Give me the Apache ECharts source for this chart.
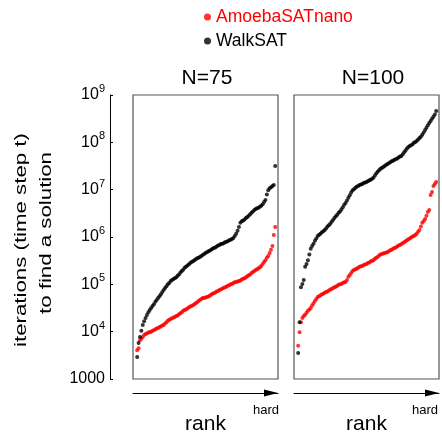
<!DOCTYPE html>
<html><head><meta charset="utf-8">
<script src="https://cdn.jsdelivr.net/npm/echarts@6/dist/echarts.min.js"></script>
<style>html,body{margin:0;padding:0;background:#fff}#c{width:442px;height:434px}</style>
</head><body><div id="c"></div>
<script>
const panelTitles = ['N=75', 'N=100'];
const seriesNames = ['AmoebaSATnano', 'WalkSAT'];
const yTicks = [1000, 1e4, 1e5, 1e6, 1e7, 1e8, 1e9];
const xLabel = 'rank';
const hardLabel = 'hard';
const yLabelLines = ['iterations (time step t)', 'to find a solution'];

const amoeba75 = [4.07e3,4.47e3,6.61e3,7.08e3,7.76e3,8.51e3,8.91e3,9.12e3,9.55e3,9.77e3,
1.00e4,1.05e4,1.07e4,1.12e4,1.17e4,1.20e4,1.26e4,1.29e4,1.35e4,1.38e4,
1.48e4,1.58e4,1.70e4,1.78e4,1.86e4,1.91e4,2.00e4,2.04e4,2.14e4,2.19e4,
2.34e4,2.45e4,2.57e4,2.75e4,2.88e4,2.95e4,3.09e4,3.24e4,3.39e4,3.47e4,
3.63e4,3.80e4,3.98e4,4.17e4,4.47e4,4.68e4,4.90e4,5.13e4,5.13e4,5.25e4,
5.37e4,5.50e4,5.75e4,6.03e4,6.31e4,6.46e4,6.76e4,7.08e4,7.24e4,7.59e4,
7.76e4,8.13e4,8.32e4,8.71e4,8.91e4,9.33e4,9.55e4,1.00e5,1.02e5,1.07e5,
1.10e5,1.12e5,1.15e5,1.17e5,1.20e5,1.26e5,1.32e5,1.35e5,1.41e5,1.48e5,
1.55e5,1.62e5,1.74e5,1.82e5,1.91e5,2.00e5,2.09e5,2.19e5,2.29e5,2.45e5,
2.69e5,2.95e5,3.24e5,3.63e5,3.98e5,4.57e5,5.37e5,6.46e5,1.10e6,1.62e6];

const walk75 = [2.92e3,5.75e3,7.76e3,1.05e4,1.38e4,1.66e4,1.95e4,2.24e4,2.57e4,2.88e4,
3.16e4,3.47e4,3.80e4,4.27e4,4.68e4,5.13e4,5.62e4,6.17e4,6.92e4,7.59e4,
8.32e4,9.12e4,1.00e5,1.07e5,1.17e5,1.23e5,1.29e5,1.35e5,1.41e5,1.51e5,
1.62e5,1.78e5,1.91e5,2.04e5,2.24e5,2.34e5,2.51e5,2.63e5,2.82e5,2.95e5,
3.09e5,3.24e5,3.39e5,3.55e5,3.63e5,3.80e5,3.98e5,4.17e5,4.37e5,4.57e5,
4.79e5,5.01e5,5.13e5,5.37e5,5.62e5,5.89e5,6.03e5,6.31e5,6.61e5,6.76e5,
7.08e5,7.24e5,7.41e5,7.76e5,7.94e5,8.13e5,8.51e5,8.71e5,9.12e5,9.55e5,
1.05e6,1.17e6,1.35e6,1.62e6,2.00e6,2.14e6,2.24e6,2.34e6,2.51e6,2.63e6,
2.82e6,3.02e6,3.24e6,3.47e6,3.72e6,3.89e6,4.07e6,4.17e6,4.37e6,4.57e6,
4.90e6,5.50e6,6.03e6,7.94e6,9.77e6,1.07e7,1.12e7,1.20e7,1.26e7,3.16e7];

const amoeba100 = [5.01e3,9.77e3,1.58e4,1.95e4,2.14e4,2.29e4,2.51e4,2.75e4,2.95e4,3.16e4,
3.55e4,3.98e4,4.47e4,4.90e4,5.37e4,5.62e4,5.89e4,6.17e4,6.31e4,6.61e4,
6.92e4,7.08e4,7.41e4,7.76e4,7.94e4,8.32e4,8.71e4,8.91e4,9.33e4,9.77e4,
1.00e5,1.02e5,1.07e5,1.10e5,1.12e5,1.23e5,1.45e5,1.58e5,1.74e5,1.91e5,
2.00e5,2.09e5,2.14e5,2.24e5,2.34e5,2.40e5,2.45e5,2.57e5,2.63e5,2.69e5,
2.82e5,2.88e5,3.02e5,3.16e5,3.24e5,3.47e5,3.63e5,3.80e5,4.07e5,4.27e5,
4.37e5,4.47e5,4.57e5,4.68e5,4.79e5,5.01e5,5.25e5,5.37e5,5.62e5,5.89e5,
6.03e5,6.31e5,6.61e5,6.76e5,7.08e5,7.41e5,7.76e5,8.13e5,8.51e5,8.91e5,
9.33e5,9.77e5,1.02e6,1.05e6,1.10e6,1.17e6,1.29e6,1.41e6,1.66e6,2.00e6,
2.19e6,2.40e6,2.82e6,3.39e6,3.72e6,7.76e6,8.91e6,1.20e7,1.32e7,1.45e7];

const walk100 = [3.55e3,1.58e4,8.71e4,1.02e5,1.23e5,2.34e5,2.69e5,3.24e5,4.27e5,5.62e5,
6.46e5,7.24e5,8.32e5,9.33e5,1.05e6,1.12e6,1.17e6,1.26e6,1.32e6,1.41e6,
1.51e6,1.66e6,1.78e6,1.91e6,2.09e6,2.29e6,2.51e6,2.75e6,2.95e6,3.24e6,
3.47e6,3.80e6,4.27e6,4.79e6,5.25e6,5.89e6,6.76e6,7.59e6,8.71e6,9.77e6,
1.02e7,1.10e7,1.15e7,1.20e7,1.26e7,1.29e7,1.32e7,1.38e7,1.41e7,1.45e7,
1.51e7,1.58e7,1.62e7,1.70e7,1.78e7,2.00e7,2.19e7,2.40e7,2.57e7,2.75e7,
2.88e7,3.02e7,3.16e7,3.31e7,3.47e7,3.63e7,3.80e7,3.98e7,4.07e7,4.27e7,
4.37e7,4.57e7,4.79e7,5.01e7,5.13e7,5.62e7,6.17e7,6.76e7,7.41e7,7.94e7,
8.32e7,8.71e7,9.12e7,9.77e7,1.02e8,1.07e8,1.15e8,1.23e8,1.32e8,1.45e8,
1.62e8,1.82e8,2.04e8,2.29e8,2.57e8,2.82e8,3.16e8,3.47e8,3.89e8,4.57e8];

const RED = '#ff0000';
const FONT = '"Liberation Sans", Arial, Helvetica, sans-serif';
function pts(arr) { return arr.map((v, i) => [i + 1, v]); }

const chart = echarts.init(document.getElementById('c'), null, {renderer: 'canvas'});

function panelX(idx) {
  return {
    gridIndex: idx, type: 'value', min: -2, max: 102,
    position: 'bottom', offset: 14,
    axisLine: {show: true, symbol: ['none', 'triangle'], symbolSize: [7, 14], symbolOffset: [0, -7],
      lineStyle: {color: '#000', width: 1}},
    axisTick: {show: false}, axisLabel: {show: false}, splitLine: {show: false},
    name: xLabel, nameLocation: 'middle', nameGap: 21,
    nameTextStyle: {fontSize: 21, color: '#000', fontFamily: FONT}
  };
}
function panelY(idx) {
  return {gridIndex: idx, type: 'log', logBase: 10, min: 1000, max: 1e9,
    axisLine: {show: false}, axisTick: {show: false}, axisLabel: {show: false}, splitLine: {show: false}};
}
function yTitle(text, x, y) {
  return {type: 'text', x: x, y: y, rotation: Math.PI / 2, scaleX: 1.39, scaleY: 1,
    style: {text: text, font: '16px ' + FONT, fill: '#000',
      align: 'center', verticalAlign: 'middle', textAlign: 'center', textVerticalAlign: 'middle'}};
}

chart.setOption({
  animation: false,
  backgroundColor: '#fff',
  textStyle: {fontFamily: FONT},
  title: [
    {text: panelTitles[0], left: 202, top: 63, textAlign: 'center',
      textStyle: {fontSize: 21, fontWeight: 'normal', color: '#000', fontFamily: FONT}},
    {text: panelTitles[1], left: 368, top: 63, textAlign: 'center',
      textStyle: {fontSize: 21, fontWeight: 'normal', color: '#000', fontFamily: FONT}}
  ],
  legend: {
    orient: 'vertical', left: 199, top: 3, itemWidth: 7, itemHeight: 7, itemGap: 6,
    icon: 'circle',
    textStyle: {fontSize: 17.5, fontFamily: FONT},
    data: [
      {name: seriesNames[0], textStyle: {color: RED}},
      {name: seriesNames[1], textStyle: {color: '#000'}}
    ]
  },
  grid: [
    {left: 133, top: 95, width: 145, height: 284, show: true, borderColor: '#555', borderWidth: 1.2, outerBoundsMode: 'none', containLabel: false},
    {left: 294, top: 95, width: 145, height: 284, show: true, borderColor: '#555', borderWidth: 1.2, outerBoundsMode: 'none', containLabel: false},
    {left: 110, top: 95, width: 1, height: 284, show: false, outerBoundsMode: 'none', containLabel: false}
  ],
  xAxis: [panelX(0), panelX(1), {gridIndex: 2, type: 'value', show: false}],
  yAxis: [panelY(0), panelY(1), {
    gridIndex: 2, type: 'log', logBase: 10, min: 1000, max: 1e9, interval: 1,
    axisLine: {show: true, lineStyle: {color: '#000', width: 1}},
    axisTick: {show: true, inside: true, length: 3, lineStyle: {color: '#000'}},
    splitLine: {show: false},
    axisLabel: {
      margin: 5, color: '#000',
      formatter: function (v) {
        if (v === yTicks[0]) return '{n|1000}';
        return '{n|10}{s|' + Math.round(Math.log10(v)) + '}';
      },
      rich: {
        n: {fontSize: 16, fontFamily: FONT, color: '#000'},
        s: {fontSize: 11, fontFamily: FONT, color: '#000', padding: [0, 0, 12, 0]}
      }
    }
  }],
  graphic: [
    yTitle(yLabelLines[0], 22, 240),
    yTitle(yLabelLines[1], 47, 233),
    {type: 'text', right: 442 - 279, top: 404, style: {text: hardLabel, fill: '#000', font: '13px ' + FONT}},
    {type: 'text', right: 442 - 438, top: 404, style: {text: hardLabel, fill: '#000', font: '13px ' + FONT}}
  ],
  series: [
    {name: seriesNames[0], type: 'scatter', xAxisIndex: 0, yAxisIndex: 0, data: pts(amoeba75),
      symbolSize: 4, itemStyle: {color: RED}},
    {name: seriesNames[1], type: 'scatter', xAxisIndex: 0, yAxisIndex: 0, data: pts(walk75),
      symbolSize: 4, itemStyle: {color: '#000'}},
    {name: seriesNames[0], type: 'scatter', xAxisIndex: 1, yAxisIndex: 1, data: pts(amoeba100),
      symbolSize: 4, itemStyle: {color: RED}},
    {name: seriesNames[1], type: 'scatter', xAxisIndex: 1, yAxisIndex: 1, data: pts(walk100),
      symbolSize: 4, itemStyle: {color: '#000'}}
  ]
});
</script>
</body></html>
